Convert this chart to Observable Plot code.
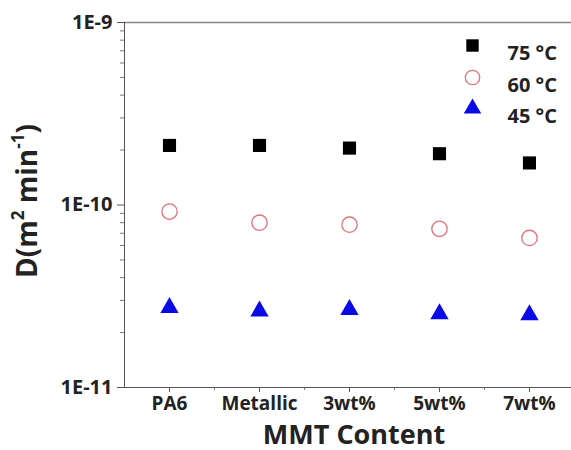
<!DOCTYPE html>
<html><head><meta charset="utf-8">
<script src="https://cdn.jsdelivr.net/npm/d3@7"></script>
<script src="https://cdn.jsdelivr.net/npm/@observablehq/plot@0.6"></script>
<style>body{margin:0;background:#fff;} svg{font-family:"Open Sans",sans-serif;}</style>
</head><body><div id="chart"></div>
<script>
const categories = ["PA6", "Metallic", "3wt%", "5wt%", "7wt%"];
const series = ["75 °C", "60 °C", "45 °C"];
const d75 = [2.12e-10, 2.12e-10, 2.05e-10, 1.91e-10, 1.70e-10];
const d60 = [9.2e-11, 8.0e-11, 7.8e-11, 7.4e-11, 6.6e-11];
const d45 = [2.74e-11, 2.62e-11, 2.67e-11, 2.53e-11, 2.50e-11];
const yMajor = [1e-11, 1e-10, 1e-9];
const yMajorLabels = ["1E-11", "1E-10", "1E-9"];
const xLabel = "MMT Content";
const yLabelParts = [["D(m", false], ["2", true], [" min", false], ["-1", true], [")", false]];

const yMinor = [];
for (const base of [1e-11, 1e-10]) for (let k = 2; k <= 9; k++) yMinor.push(k * base);
const xMinor = d3.range(1.5, 5.5, 1);
const idx = categories.map((c, i) => i + 1);
const mk = vals => vals.map((v, i) => ({x: i + 1, y: v}));
const red = "#e3707a", blue = "#0a0ae6";
const legY = [23, 55, 86];
const legText = i => Plot.text([series[i]], {text: d => d, frameAnchor: "top-right", dx: -64, dy: legY[i], textAnchor: "start", fontSize: 20, fontWeight: "bold", fill: "#222"});

const plot = Plot.plot({
  width: 571, height: 450,
  marginLeft: 124, marginRight: 0, marginTop: 22, marginBottom: 63,
  style: {fontFamily: "Open Sans, sans-serif", background: "#fff"},
  x: {domain: [0.5, 5.467], axis: null},
  y: {type: "log", domain: [1e-11, 1e-9], axis: null},
  marks: [
    Plot.ruleY([1e-9], {stroke: "#888", strokeWidth: 1.5}),
    Plot.ruleY([1e-11], {stroke: "#555", strokeWidth: 1}),
    Plot.ruleX([0.5], {stroke: "#555", strokeWidth: 1}),
    Plot.axisY({ticks: yMajor, tickFormat: d => yMajorLabels[yMajor.indexOf(d)], tickSize: 7, tickPadding: 5, fontSize: 20, fontWeight: "bold", label: null, stroke: "#555", color: "#222"}),
    Plot.axisY({ticks: yMinor, tickFormat: () => "", tickSize: 4, label: null, stroke: "#777"}),
    Plot.axisX({ticks: idx, tickFormat: d => categories[d - 1], tickSize: 5, tickPadding: 4, fontSize: 19, fontWeight: "bold", label: null, stroke: "#555", color: "#222"}),
    Plot.axisX({ticks: xMinor, tickFormat: () => "", tickSize: 3, label: null, stroke: "#777"}),
    Plot.dot(mk(d75), {x: "x", y: "y", symbol: "square", r: 7.4, fill: "#000"}),
    Plot.dot(mk(d60), {x: "x", y: "y", symbol: "circle", r: 7.7, stroke: red, strokeWidth: 1.3, fill: "none"}),
    Plot.dot(mk(d45), {x: "x", y: "y", symbol: "triangle", r: 6.8, fill: blue}),
    // legend
    Plot.dot([series[0]], {frameAnchor: "top-right", dx: -99, dy: legY[0], symbol: "square", r: 7, fill: "#000"}),
    Plot.dot([series[1]], {frameAnchor: "top-right", dx: -99, dy: legY[1], symbol: "circle", r: 7.2, stroke: red, strokeWidth: 1.3, fill: "none"}),
    Plot.dot([series[2]], {frameAnchor: "top-right", dx: -99, dy: legY[2], symbol: "triangle", r: 6.5, fill: blue}),
    legText(0), legText(1), legText(2),
    // x title
    Plot.text([xLabel], {text: d => d, frameAnchor: "bottom", dx: 6, dy: 56, fontSize: 27, fontWeight: "bold", fill: "#222"})
  ]
});
// y title with superscripts
const t = d3.select(plot).append("text")
  .attr("transform", "translate(37,201) rotate(-90)")
  .attr("text-anchor", "middle")
  .attr("font-size", 28).attr("font-weight", "bold").attr("fill", "#222");
for (const [s, sup] of yLabelParts) {
  const ts = t.append("tspan").text(s);
  if (sup) ts.attr("font-size", 17).attr("dy", "-0.75em");
  else if (s !== yLabelParts[0][0]) ts.attr("dy", "0.46em");
}
document.getElementById("chart").appendChild(plot);
</script></body></html>
